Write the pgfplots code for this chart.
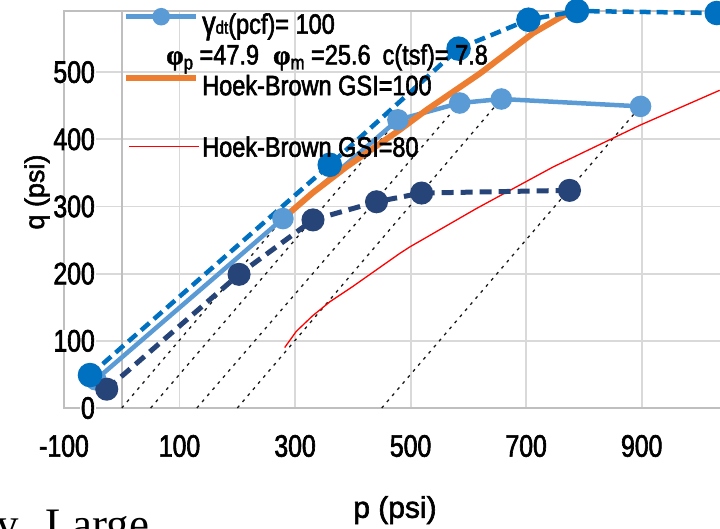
\documentclass[border=0pt]{standalone}
\usepackage{pgfplots}
\pgfplotsset{compat=1.18}
\usepackage{fontspec}
\setmainfont{Liberation Sans}[FakeStretch=0.8, FakeBold=2]
\newfontfamily\legfont{Liberation Sans}[FakeStretch=0.84, FakeBold=2]
\newfontfamily\titlefont{Liberation Sans}[FakeBold=2]
\newfontfamily\serifont{Liberation Serif}
\newfontfamily\phifont{Liberation Serif Bold}[FakeBold=1.5]
\definecolor{lb}{HTML}{5B9BD5}
\definecolor{mb}{HTML}{0070C0}
\definecolor{nv}{HTML}{264478}
\definecolor{org}{HTML}{ED7D31}
\definecolor{hbred}{HTML}{FF0000}
\definecolor{gridc}{HTML}{D9D9D9}
\definecolor{borderc}{HTML}{BFBFBF}
\begin{document}
\begin{tikzpicture}[x=1pt,y=1pt]
\begin{axis}[
  at={(64pt,120pt)}, anchor=south west,
  scale only axis, width=658pt, height=397pt,
  xmin=-100, xmax=1039, ymin=0, ymax=591,
  xtick={-100,100,...,900}, ytick={0,100,...,500},
  extra x ticks={0}, extra x tick labels={},
  extra x tick style={grid style={borderc, line width=1.8pt}},
  grid=major, grid style={gridc, line width=1.8pt},
  axis line style={borderc, line width=1.8pt},
  major tick length=0pt,
  tick label style={font=\fontsize{31}{32}\selectfont},
  /pgf/number format/assume math mode=true,
  xticklabel style={anchor=center, yshift=-38pt},
  yticklabel style={anchor=east, xshift=32pt, fill=white, inner xsep=1pt, inner ysep=0pt},
  clip=false,
  xlabel={p (psi)}, ylabel={q (psi)},
  xlabel style={font=\titlefont\fontsize{30}{30}\selectfont, at={(axis description cs:0.503,-0.257)}, anchor=center},
  ylabel style={font=\titlefont\fontsize{27}{27}\selectfont, at={(axis description cs:-0.041,0.544)}, anchor=center},
  legend style={at={(axis description cs:0.0897,1.0025)}, anchor=north west, draw=none, fill=none,
    inner sep=0pt, row sep=4.75pt, column sep=3pt, font=\legfont\fontsize{28}{30}\selectfont,
    nodes={inner sep=0pt, text height=20pt, text depth=6pt}},
  legend cell align=left,
  legend image code/.code={\draw[mark repeat=2,mark phase=2,#1] plot coordinates {(0pt,10pt) (35pt,10pt) (70pt,10pt)};},
]
% dotted stress paths
\addplot[forget plot, black!90, line width=1.3pt, dash pattern=on 3pt off 5pt] coordinates {(0,0) (279,282)};
\addplot[forget plot, black!90, line width=1.3pt, dash pattern=on 3pt off 5pt] coordinates {(50,0) (478,429)};
\addplot[forget plot, black!90, line width=1.3pt, dash pattern=on 3pt off 5pt] coordinates {(130,0) (585,454)};
\addplot[forget plot, black!90, line width=1.3pt, dash pattern=on 3pt off 5pt] coordinates {(200,0) (657,460)};
\addplot[forget plot, black!90, line width=1.3pt, dash pattern=on 3pt off 5pt] coordinates {(450,0) (898,449)};
% Hoek-Brown GSI=80
\addplot[forget plot, color=hbred, line width=1.3pt] coordinates {
(282,90) (302,114) (330,137) (360,158) (400,181) (481,230) (499,240) (614,297) (747,359) (897,421) (1035,473)};
% light blue
\addplot[forget plot, lb, line width=4.5pt, mark=*, mark size=8.5pt] coordinates {
(-45,42) (279,282) (478,429) (585,454) (657,460) (898,449)};
% Hoek-Brown GSI=100
\addplot[forget plot, org, line width=6pt] coordinates {
(279,282) (330,320) (389,359) (481,414) (528,444) (620,498) (712,558) (764,584) (788,591)};
% navy dashed
\addplot[forget plot, nv, line width=5pt, dash pattern=on 12pt off 7pt, mark=*, mark size=9pt, mark options={solid}] coordinates {
(-26,28) (203,199) (331,280) (441,307) (519,320) (775,324)};
% medium blue dashed
\addplot[forget plot, mb, line width=4.5pt, dash pattern=on 11pt off 6pt, mark=*, mark size=10pt, mark options={solid}] coordinates {
(-55,49) (360,362) (583,535) (704,578) (788,591) (1030,588)};
% legend
\addlegendimage{color=lb, line width=4.5pt, mark=*, mark size=6.5pt}
\addlegendentry{{\fontsize{32}{30}\selectfont γ}{\fontsize{18}{20}\selectfont dt}(pcf)= 100}
\addlegendimage{empty legend}
\addlegendentry{\hspace*{-36pt}{\phifont φ}\raisebox{-5pt}{\fontsize{20}{20}\selectfont p} =47.9\hspace{14pt}{\phifont φ}\raisebox{-5pt}{\fontsize{20}{20}\selectfont m} =25.6\hspace{12pt}c(tsf)= 7.8}
\addlegendimage{color=org, line width=6pt}
\addlegendentry{Hoek-Brown GSI=100}
\addlegendimage{empty legend}
\addlegendentry{~}
\addlegendimage{empty legend}
\addlegendentry{\hspace*{-73pt}\textcolor{hbred}{\rule[9.3pt]{70pt}{1.4pt}}\hspace*{3pt}Hoek-Brown GSI=80}
\end{axis}
\node[anchor=base west, inner sep=0pt, font=\serifont\fontsize{45}{45}\selectfont] at (-4,-11.8) {y\hspace{0.59em}Large};
\pgfresetboundingbox
\useasboundingbox (0,0) rectangle (720,528);
\end{tikzpicture}
\end{document}
